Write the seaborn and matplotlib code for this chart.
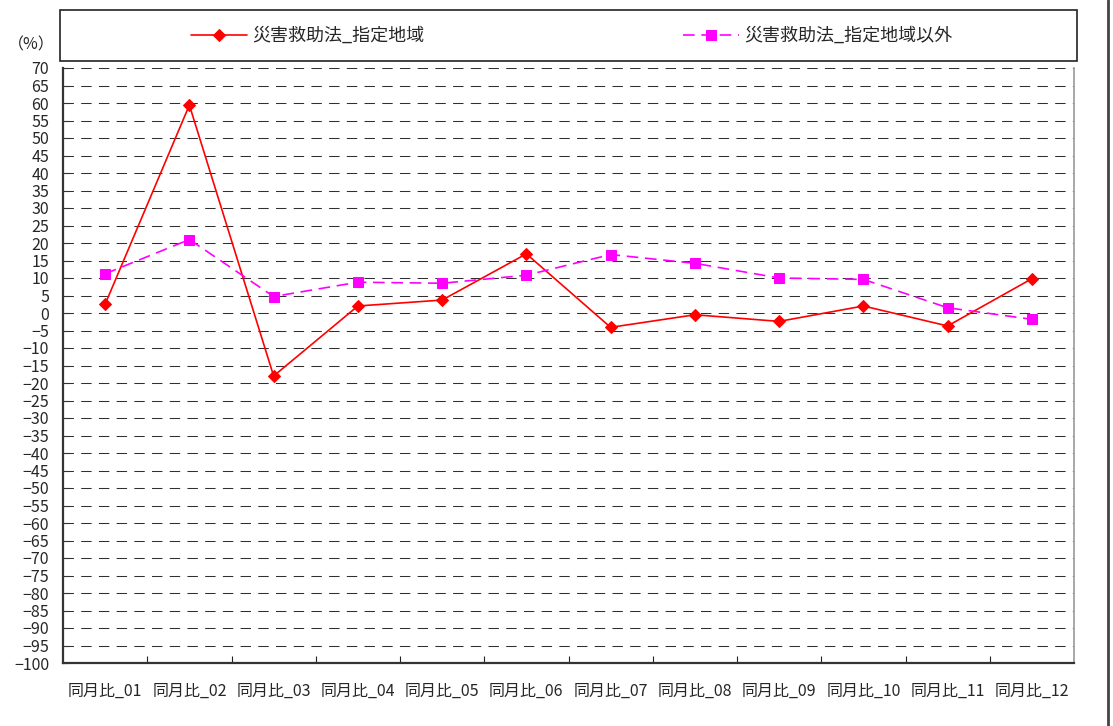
import matplotlib
matplotlib.use("Agg")
import matplotlib.pyplot as plt
from matplotlib.patches import Rectangle
from matplotlib.lines import Line2D
from matplotlib.ticker import FixedLocator, MultipleLocator
import seaborn as sns
import pandas as pd

# Month-over-month comparison (%)
categories = [f"同月比_{i:02d}" for i in range(1, 13)]
designated = [2.5, 59.4, -18.0, 2.0, 3.7, 16.9, -4.1, -0.5, -2.4, 2.0, -3.7, 9.8]
non_designated = [11.2, 21.0, 4.7, 8.8, 8.5, 10.8, 16.7, 14.2, 10.0, 9.6, 1.5, -1.8]
series_names = ["災害救助法_指定地域", "災害救助法_指定地域以外"]

sns.set_theme(style="white")
plt.rcParams["font.family"] = ["Noto Sans CJK JP", "DejaVu Sans"]

W, H = 1113, 726
fig = plt.figure(figsize=(W / 100, H / 100), dpi=100)
fig.patch.set_facecolor("white")

left, right, top, bottom = 63, 1074, 68, 663
ax = fig.add_axes([left / W, 1 - bottom / H, (right - left) / W, (bottom - top) / H])

df = pd.DataFrame({"cat": categories, "a": designated, "b": non_designated})

sns.lineplot(data=df, x="cat", y="a", ax=ax, color="#ff0000", linewidth=1.2,
             marker="D", markersize=6.5, markeredgecolor="#ff0000",
             label=series_names[0], sort=False)
sns.lineplot(data=df, x="cat", y="b", ax=ax, color="#ff00ff", linewidth=1.2,
             marker="s", markersize=7, markeredgecolor="#ff00ff",
             label=series_names[1], sort=False)
ax.lines[1].set_linestyle((0, (7, 4)))

ax.set_xlim(-0.5, len(categories) - 0.5)
ax.set_ylim(-100, 70)
ax.set_xlabel("")
ax.set_ylabel("")

# dashed horizontal gridlines every 5
for v in range(-95, 71, 5):
    ax.axhline(v, color="#303030", linewidth=0.75, linestyle=(0, (10, 7)), zorder=0)

ax.yaxis.set_major_locator(MultipleLocator(5))
ax.tick_params(axis="y", direction="in", length=4, width=0.8, color="#333333",
               labelsize=11.5, pad=10, left=True)
ax.set_xticks(range(len(categories)))
ax.set_xticklabels(categories)
ax.tick_params(axis="x", which="major", length=0, labelsize=11.5, pad=14)
ax.xaxis.set_minor_locator(FixedLocator([i + 0.5 for i in range(len(categories) - 1)]))
ax.tick_params(axis="x", which="minor", direction="in", length=5, width=0.8,
               color="#222222", bottom=True)

for s in ["left", "bottom"]:
    ax.spines[s].set_color("#333333")
    ax.spines[s].set_linewidth(1.6)
ax.spines["right"].set_color("#999999")
ax.spines["right"].set_linewidth(1.2)
ax.spines["top"].set_visible(False)

# legend inside a boxed band above the plot
ax.get_legend().remove()
handles, labels = ax.get_legend_handles_labels()
fig.add_artist(Rectangle((60 / W, 1 - 61 / H), (1077 - 60) / W, (61 - 10) / H,
                         transform=fig.transFigure, fill=False,
                         edgecolor="#222222", linewidth=1.2))
fig.legend(handles, labels, loc="center left", bbox_to_anchor=(182 / W, 1 - 36 / H),
           ncol=2, frameon=False, fontsize=13, handlelength=3.1,
           handletextpad=0.3, columnspacing=14.3, borderpad=0)

fig.text(8 / W, 1 - 45 / H, "（%）", fontsize=11.5, ha="left", va="center")

# right-hand border of the figure
fig.add_artist(Line2D([1108 / W, 1108 / W], [0, 1], transform=fig.transFigure,
                      color="#444444", linewidth=2))

fig.savefig("out.png", dpi=100)
